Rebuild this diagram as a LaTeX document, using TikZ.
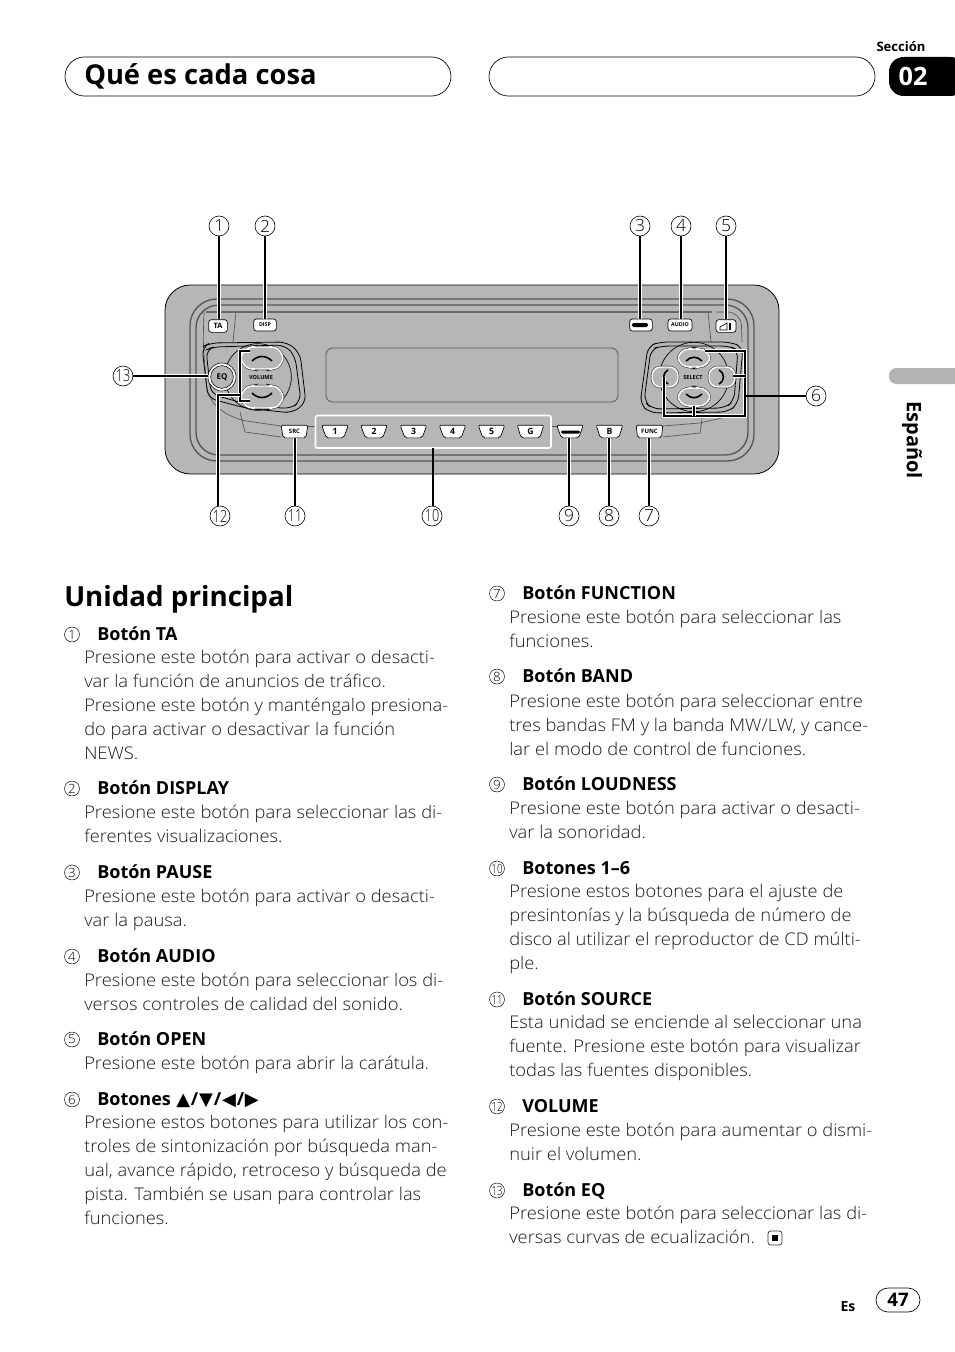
\documentclass[tikz,border=0pt]{standalone}
\usepackage{fontspec}
\usepackage{graphicx}
\setmainfont{Open Sans}
\newfontfamily\lightf{Open Sans Light}[FakeStretch=1.05]
\newfontfamily\boldf{Open Sans}[UprightFont=*-Bold]
\newfontfamily\symf{DejaVu Sans}
\usetikzlibrary{shapes.geometric,shapes.misc,calc}
\definecolor{devgray}{HTML}{B6B6B6}
\definecolor{tabgray}{HTML}{B4B4B4}
\definecolor{bandgray}{HTML}{555555}
\tikzset{
  bodytext/.style={anchor=base west,inner sep=0pt,align=left,font=\lightf\fontsize{13.1}{18}\selectfont,text=black!90},
  headtext/.style={anchor=base west,inner sep=0pt,font=\boldf\fontsize{13.5}{18}\selectfont},
  numsmall/.style={circle,draw,line width=.35pt,minimum size=11.2pt,inner sep=0pt,font=\lightf\fontsize{9.5}{10}\selectfont},
  numbig/.style={circle,draw,line width=.45pt,minimum size=15pt,inner sep=0pt,font=\lightf\fontsize{12.5}{13}\selectfont},
  leader/.style={line width=1.5pt,black,preaction={draw=white,line width=3pt}},
  leaderthin/.style={line width=1pt,black,preaction={draw=white,line width=2.5pt}},
  trace/.style={line width=.5pt,bandgray},
  band/.style={line width=1pt,bandgray},
  topbtn/.style={draw=black,line width=.5pt,fill=white,rounded corners=2pt,inner sep=0pt,minimum height=9pt,font=\boldf\fontsize{4}{4}\selectfont},
  lowbtn/.style={trapezium,shape border rotate=180,trapezium angle=78,trapezium stretches=true,draw=black,line width=.5pt,fill=white,rounded corners=1.5pt,inner sep=0pt,minimum height=9.5pt,font=\boldf\fontsize{6.5}{6}\selectfont},
  keyshape/.style={fill=devgray,draw=white,line width=1.1pt,rounded corners=2.5pt,preaction={draw=black,line width=1.7pt}},
  keyanchor/.style={rectangle,draw=none,fill=none,inner sep=0pt},
  glyph/.style={line width=1.2pt,black},
  pill/.style={rounded rectangle,draw,line width=.5pt,inner sep=0pt},
}
\newcommand{\entry}[7]{%
  \node[numsmall] (c#1) at (#2,#3-5.5) {\ifnum#4>9 \scalebox{.72}[1]{#4}\else #4\fi};
  \node[headtext] (h#1) at (#2+25,#3+.8) {#5};
  \node[bodytext] (b#1) at (#2+12,#6+.8) {#7};
}
% name, x, y, half width, half height
\newcommand{\keyb}[5]{%
  \draw[keyshape] (#2-#4,#3) -- (#2-#4+6,#3-#5+1) -- (#2-#4+12,#3-#5) -- (#2+#4-12,#3-#5) -- (#2+#4-6,#3-#5+1) -- (#2+#4,#3)
    -- (#2+#4-6,#3+#5-1) -- (#2+#4-12,#3+#5) -- (#2-#4+12,#3+#5) -- (#2-#4+6,#3+#5-1) -- cycle;
  \node[keyanchor,minimum width=#4*1.5pt,minimum height=#5*1.5pt] (#1) at (#2,#3) {};
}
\newcommand{\keyc}[5]{%
  \draw[keyshape] (#2-#4,#3-#5+5) -- (#2-#4+5,#3-#5) -- (#2+#4-5,#3-#5) -- (#2+#4,#3-#5+5) -- (#2+#4,#3+#5-5) -- (#2+#4-5,#3+#5) -- (#2-#4+5,#3+#5) -- (#2-#4,#3+#5-5) -- cycle;
  \node[keyanchor,minimum width=#4*1.5pt,minimum height=#5*1.5pt] (#1) at (#2,#3) {};
}
\newcommand{\tri}[1]{\hspace{.6pt}{\symf\fontsize{13.5}{14}\selectfont #1}\hspace{.6pt}}
\begin{document}
\begin{tikzpicture}[x=0.75pt,y=-0.75pt]
\useasboundingbox (0,0) rectangle (954,1352);
\fill[white] (0,0) rectangle (954,1352);
% header
\node[pill,minimum width=289.5pt,minimum height=29.3pt] (hdrL) at (258,76.5) {};
\node[pill,minimum width=289.5pt,minimum height=29.3pt] (hdrR) at (682,76.5) {};
\node[anchor=base west,inner sep=0pt,font=\boldf\fontsize{20.5}{24}\selectfont] (title) at (84,85) {Qué es cada cosa};
\node[font=\boldf\fontsize{9.8}{10}\selectfont,inner sep=0pt] (secc) at (901,46.5) {Sección};
\fill[black,rounded corners=11pt] (889,57) -- (889,96) -- (965,96) -- (965,57) -- cycle;
\node[text=white,font=\boldf\fontsize{19}{22}\selectfont,inner sep=0pt] (sec02) at (913,76) {02};
% side tab
\fill[tabgray,rounded corners=5.5pt] (889,368) rectangle (970,384);
\node[rotate=-90,font=\boldf\fontsize{15}{16}\selectfont,inner sep=0pt] (esp) at (912,440) {Español};
% device body
\draw[fill=devgray,line width=.6pt,draw=black,rounded corners=19pt] (165,285) rectangle (779,474);
\draw[band,rounded corners=20pt] (190,299) rectangle (754,461);
\draw[band,rounded corners=17pt] (196,305) rectangle (748,455);
\draw[line width=1pt,black!60] (206,312) -- (712,312);
\draw[trace,rounded corners=10pt] (204,312) -- (203,345) -- (208,400) -- (233,419) -- (281,426);
\draw[trace] (663,426) -- (700,423) -- (722,418);
\draw[trace,rounded corners=10pt] (716,312) -- (741,312) -- (742,342);
\draw[trace] (236,312) -- (233,342);
\draw[trace] (708,312) -- (711,342);
\draw[trace] (240,412) -- (245,432) -- (281,437);
\draw[trace] (663,437) -- (700,433) -- (703,412);
\draw[trace] (308,426) -- (316,426);
\draw[trace] (551,426) -- (557,426);
% display
\draw[line width=.6pt,bandgray,rounded corners=5pt] (326,348) rectangle (618,402);
% left control cluster
\draw[line width=.6pt,black,rounded corners=6pt] (202,347) -- (210,343) -- (287,342) -- (300,353) -- (306,403) -- (292,413) -- (245,408) -- (208,398) -- cycle;
\draw[line width=.6pt,black,rounded corners=6pt] (206,350) -- (213,347) -- (285,345) -- (295,356) -- (301,401) -- (290,409) -- (246,404) -- (211,394) -- cycle;
\draw[line width=.5pt,black] (258,377) circle[radius=25pt];
% right control cluster
\draw[line width=.6pt,black,rounded corners=6pt] (648,346) -- (660,342) -- (730,342) -- (743,347) -- (738,404) -- (728,412) -- (650,413) -- (640,404) -- cycle;
\draw[line width=.6pt,black,rounded corners=6pt] (651,349) -- (662,346) -- (729,346) -- (738,350) -- (734,401) -- (725,408) -- (652,409) -- (644,401) -- cycle;
\draw[line width=.5pt,black] (694,377) circle[radius=26pt];
\node[font=\boldf\fontsize{4.2}{5}\selectfont,inner sep=0pt] (vol) at (261,377) {VOLUME};
\node[font=\boldf\fontsize{4.2}{5}\selectfont,inner sep=0pt] (sel) at (693,377) {SELECT};
% EQ
\node[circle,draw=black,fill=white,line width=.4pt,minimum size=21pt,inner sep=0pt] (eqo) at (222,377) {};
\node[circle,draw=black,fill=devgray,line width=.4pt,minimum size=17pt,inner sep=0pt,font=\boldf\fontsize{6}{6}\selectfont] (eq) at (222,377) {EQ};
% keys
\keyb{vup}{262}{358}{22}{11}
\keyb{vdn}{262}{397}{22}{11}
\keyb{kup}{694}{358}{17}{9}
\keyb{kdn}{694}{397}{17}{9}
\keyc{klf}{665}{377}{13}{10}
\keyc{krt}{722}{377}{13}{10}
\draw[glyph] (252,361) .. controls (258,355) and (266,355) .. (272,361);
\draw[glyph] (252,393) .. controls (258,399) and (266,399) .. (272,393);
\draw[glyph] (686,361) .. controls (691,356) and (697,356) .. (702,361);
\draw[glyph] (686,394) .. controls (691,399) and (697,399) .. (702,394);
\draw[glyph] (668,370) .. controls (662,374) and (662,380) .. (668,384);
\draw[glyph] (719,370) .. controls (725,374) and (725,380) .. (719,384);
% top buttons
\node[topbtn,minimum width=14pt,minimum height=9.5pt] (ta) at (218,326) {\fontsize{5.5}{5}\selectfont TA};
\node[topbtn,minimum width=17pt] (disp) at (265,325) {DISP};
\node[topbtn,minimum width=17pt] (paus) at (641,325) {};
\fill[black,rounded corners=1pt] (632,323) rectangle (648,327);
\node[topbtn,minimum width=18pt] (audio) at (680,325) {AUDIO};
\node[topbtn,minimum width=15pt,minimum height=9.5pt] (open) at (726,326) {};
\draw[line width=.5pt,black] (720,330) -- (727,330) -- (727,323) -- (720,327) -- cycle;
\draw[line width=.8pt,black] (730,323) -- (730,330);
% presets box
\draw[white,line width=1.2pt,rounded corners=1.5pt] (315.5,415.5) rectangle (551,448);
% bottom buttons
\node[lowbtn,minimum width=20pt,font=\boldf\fontsize{4.5}{5}\selectfont] (src) at (294.5,431.5) {SRC};
\node[lowbtn,minimum width=20pt] (p1) at (335,431.5) {1};
\node[lowbtn,minimum width=20pt] (p2) at (374,431.5) {2};
\node[lowbtn,minimum width=20pt] (p3) at (413.5,431.5) {3};
\node[lowbtn,minimum width=20pt] (p4) at (452.5,431.5) {4};
\node[lowbtn,minimum width=20pt] (p5) at (491.5,431.5) {5};
\node[lowbtn,minimum width=20pt] (p6) at (530.5,431.5) {G};
\node[lowbtn,minimum width=20pt] (loud) at (570,431.5) {\phantom{1}};
\fill[black,rounded corners=1pt] (561,430.5) rectangle (580,433.5);
\node[lowbtn,minimum width=20pt] (band) at (609.5,431.5) {B};
\node[lowbtn,minimum width=20pt,font=\boldf\fontsize{4.5}{5}\selectfont] (func) at (649.5,431.5) {FUNC};
% callout numbers
\node[numbig] (n1) at (219,226) {1};
\node[numbig] (n2) at (265,226) {2};
\node[numbig] (n3) at (640,226) {3};
\node[numbig] (n4) at (681,226) {4};
\node[numbig] (n5) at (726,226) {5};
\node[numbig] (n6) at (816,396) {6};
\node[numbig] (n7) at (649,516) {7};
\node[numbig] (n8) at (609,516) {8};
\node[numbig] (n9) at (569,516) {9};
\node[numbig] (n10) at (432,516) {\scalebox{.72}[1]{10}};
\node[numbig] (n11) at (295,516) {\scalebox{.72}[1]{11}};
\node[numbig] (n12) at (220,516) {\scalebox{.72}[1]{12}};
\node[numbig] (n13) at (123,376) {\scalebox{.72}[1]{13}};
% leaders
\draw[leader] (n1.south) -- (n1.south |- ta.north);
\draw[leader] (n2.south) -- (n2.south |- disp.north);
\draw[leaderthin] (n3.south) -- (n3.south |- paus.north);
\draw[leader] (n4.south) -- (n4.south |- audio.north);
\draw[leaderthin] (n5.south) -- (n5.south |- open.north);
\draw[leader] (n7.north) -- (n7.north |- func.south);
\draw[leader] (n8.north) -- (n8.north |- band.south);
\draw[leader] (n9.north) -- (n9.north |- loud.south);
\draw[leader] (n11.north) -- (n11.north |- src.south);
\draw[leader] (n13.east) -- (eqo.west |- n13.east);
\coordinate (tenTop) at (433,448);
\draw[line width=1pt,black] (n10.north -| tenTop) -- (tenTop);
% bracket 12
\coordinate (v12a) at (240,351);
\coordinate (v12b) at (240,401);
\coordinate (v12c) at (240,395);
\coordinate (v12d) at (218,395);
\coordinate (v12e) at (250,351);
\coordinate (v12f) at (250,401);
\draw[leader] (v12e) -- (v12a) -- (v12b) -- (v12f);
\draw[leader] (v12c) -- (v12d) -- (v12d |- n12.north);
% bracket 6
\coordinate (s6a) at (745,351);
\coordinate (s6b) at (745,416);
\coordinate (s6c) at (664,416);
\coordinate (s6d) at (745,376);
\coordinate (s6e) at (745,396);
\coordinate (s6f) at (705,351);
\coordinate (s6g) at (733,376);
\draw[leader] (s6f) -- (s6a) -- (s6b) -- (s6c) -- (s6c |- klf);
\draw[leader] (s6g) -- (s6d);
\draw[leader] (kdn.south) -- (kdn.south |- s6b);
\draw[line width=1.5pt] (s6e) -- (n6.west);
% section title
\node[anchor=base west,inner sep=0pt,font=\boldf\fontsize{20.8}{24}\selectfont] (sect) at (64,606) {Unidad principal};
% left column
\entry{1}{72}{640}{1}{Botón TA}{759}{Presione este botón para activar o desacti-\\var la función de anuncios de tráfico.\\Presione este botón y manténgalo presiona-\\do para activar o desactivar la función\\NEWS.}
\entry{2}{72}{794}{2}{Botón DISPLAY}{842}{Presione este botón para seleccionar las di-\\ferentes visualizaciones.}
\entry{3}{72}{878}{3}{Botón PAUSE}{926}{Presione este botón para activar o desacti-\\var la pausa.}
\entry{4}{72}{962}{4}{Botón AUDIO}{1010}{Presione este botón para seleccionar los di-\\versos controles de calidad del sonido.}
\entry{5}{72}{1045}{5}{Botón OPEN}{1069}{Presione este botón para abrir la carátula.}
\entry{6}{72}{1105}{6}{Botones \tri{▲}/\tri{▼}/\tri{◀}/\tri{▶}}{1224}{Presione estos botones para utilizar los con-\\troles de sintonización por búsqueda man-\\ual, avance rápido, retroceso y búsqueda de\\pista. También se usan para controlar las\\funciones.}
% right column
\entry{7}{497}{599}{7}{Botón FUNCTION}{647}{Presione este botón para seleccionar las\\funciones.}
\entry{8}{497}{682}{8}{Botón BAND}{755}{Presione este botón para seleccionar entre\\tres bandas FM y la banda MW/LW, y cance-\\lar el modo de control de funciones.}
\entry{9}{497}{790}{9}{Botón LOUDNESS}{838}{Presione este botón para activar o desacti-\\var la sonoridad.}
\entry{10}{497}{874}{10}{Botones 1–6}{969}{Presione estos botones para el ajuste de\\presintonías y la búsqueda de número de\\disco al utilizar el reproductor de CD múlti-\\ple.}
\entry{11}{497}{1005}{11}{Botón SOURCE}{1076}{Esta unidad se enciende al seleccionar una\\fuente. Presione este botón para visualizar\\todas las fuentes disponibles.}
\entry{12}{497}{1112}{12}{VOLUME}{1160}{Presione este botón para aumentar o dismi-\\nuir el volumen.}
\entry{13}{497}{1196}{13}{Botón EQ}{1243}{Presione este botón para seleccionar las di-\\versas curvas de ecualización.}
% end mark
\draw[line width=.5pt,black!80,rounded corners=2pt] (768,1231) rectangle (782,1245);
\fill[black] (772,1235) rectangle (778,1241);
% footer
\node[font=\boldf\fontsize{10.5}{11}\selectfont,inner sep=0pt] (es) at (848,1307) {Es};
\node[pill,minimum width=33pt,minimum height=18pt,font=\boldf\fontsize{14}{15}\selectfont] (pg) at (898,1300) {47};
\end{tikzpicture}
\end{document}
